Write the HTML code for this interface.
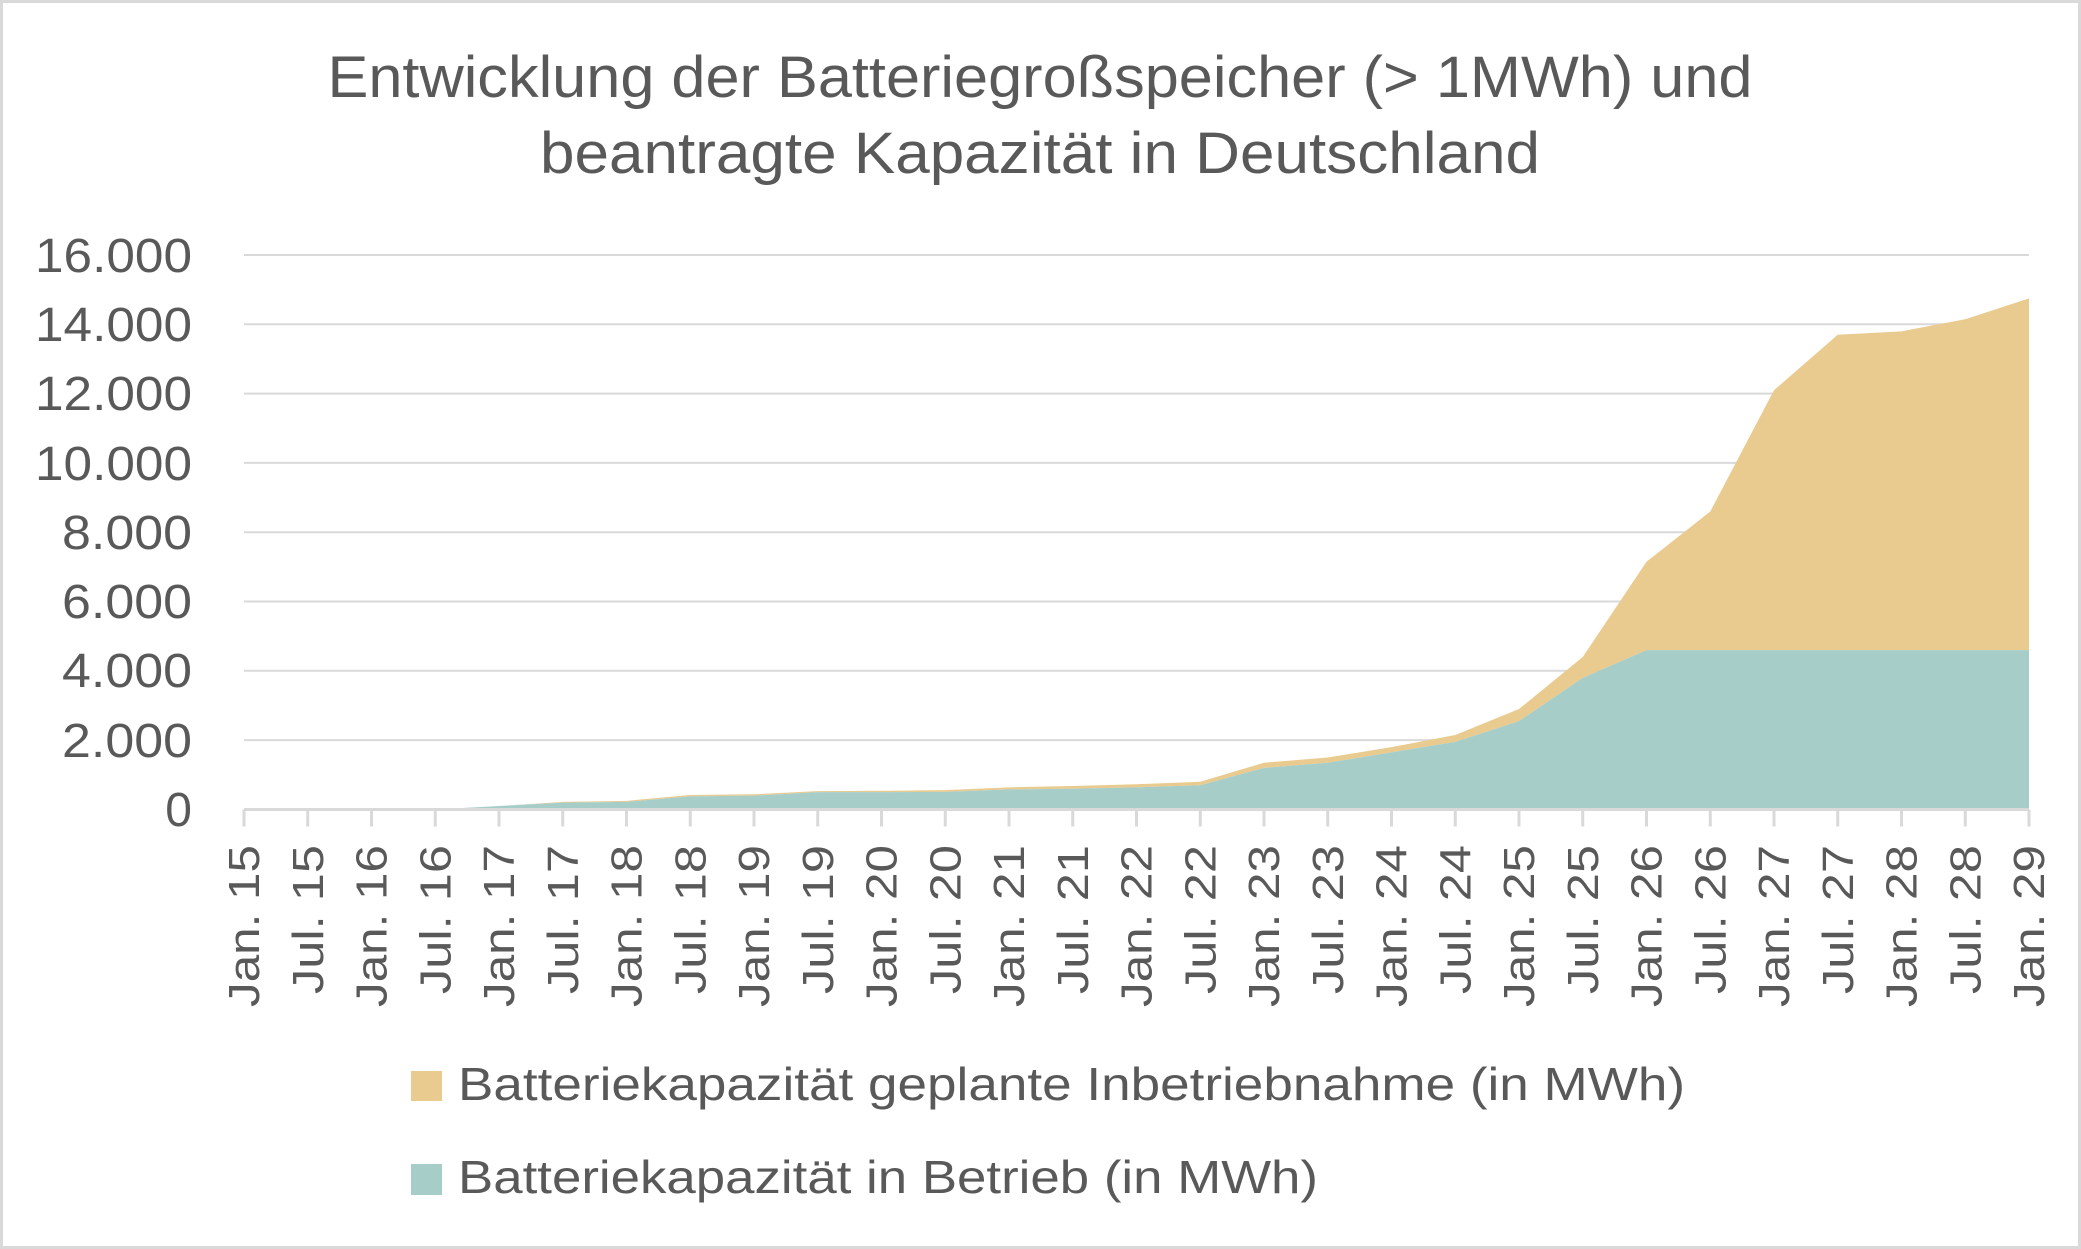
<!DOCTYPE html>
<html><head><meta charset="utf-8"><style>
html,body{margin:0;padding:0;background:#fff;}
svg{display:block;}
text{font-family:"Liberation Sans",sans-serif;fill:#595959;}
</style></head><body>
<svg width="2081" height="1249" viewBox="0 0 2081 1249" xmlns="http://www.w3.org/2000/svg">
<rect x="1.5" y="1.5" width="2078" height="1246" fill="#fff" stroke="#d9d9d9" stroke-width="3"/>
<text x="1040" y="97" font-size="58" text-anchor="middle" textLength="1425" lengthAdjust="spacingAndGlyphs">Entwicklung der Batteriegroßspeicher (&gt; 1MWh) und</text>
<text x="1040" y="173" font-size="58" text-anchor="middle" textLength="1000" lengthAdjust="spacingAndGlyphs">beantragte Kapazität in Deutschland</text>
<g stroke="#d9d9d9" stroke-width="2">
<line x1="244" x2="2029" y1="255" y2="255"/>
<line x1="244" x2="2029" y1="324.3" y2="324.3"/>
<line x1="244" x2="2029" y1="393.6" y2="393.6"/>
<line x1="244" x2="2029" y1="462.9" y2="462.9"/>
<line x1="244" x2="2029" y1="532.2" y2="532.2"/>
<line x1="244" x2="2029" y1="601.5" y2="601.5"/>
<line x1="244" x2="2029" y1="670.8" y2="670.8"/>
<line x1="244" x2="2029" y1="740.1" y2="740.1"/>
</g>
<g font-size="48" text-anchor="end">
<text x="192" y="272" textLength="157" lengthAdjust="spacingAndGlyphs">16.000</text>
<text x="192" y="341" textLength="157" lengthAdjust="spacingAndGlyphs">14.000</text>
<text x="192" y="410" textLength="157" lengthAdjust="spacingAndGlyphs">12.000</text>
<text x="192" y="480" textLength="157" lengthAdjust="spacingAndGlyphs">10.000</text>
<text x="192" y="549" textLength="130" lengthAdjust="spacingAndGlyphs">8.000</text>
<text x="192" y="618" textLength="130" lengthAdjust="spacingAndGlyphs">6.000</text>
<text x="192" y="687" textLength="130" lengthAdjust="spacingAndGlyphs">4.000</text>
<text x="192" y="757" textLength="130" lengthAdjust="spacingAndGlyphs">2.000</text>
<text x="192" y="826">0</text>
</g>
<g id="areas"></g>
<g id="ticks" stroke="#d9d9d9" stroke-width="3"></g>
<g id="xl" font-size="44" text-anchor="end"></g>
<rect x="411" y="1071" width="31" height="30" fill="#e9ca8f"/>
<text x="458" y="1100" font-size="46" textLength="1227" lengthAdjust="spacingAndGlyphs">Batteriekapazität geplante Inbetriebnahme (in MWh)</text>
<rect x="411" y="1164" width="31" height="31" fill="#a7cdc9"/>
<text x="458" y="1193" font-size="46" textLength="860" lengthAdjust="spacingAndGlyphs">Batteriekapazität in Betrieb (in MWh)</text>
<script>
var x0=244,dx=(2029-244)/28,y0=809.5,k=69.3/2000;
var teal=[0,0,0,0,100,200,220,380,400,500,500,510,580,600,640,700,1200,1350,1650,1950,2550,3800,4600,4600,4600,4600,4600,4600,4600];
var tot=[0,0,0,0,100,220,250,420,440,530,540,560,640,680,730,800,1350,1500,1800,2150,2900,4400,7150,8600,12100,13700,13800,14150,14750];
function X(i){return x0+i*dx;}function Y(v){return y0-v*k;}
var ns="http://www.w3.org/2000/svg";
function poly(a,b,c){var p=[];for(var i=0;i<29;i++)p.push(X(i)+","+Y(a[i]));for(var i=28;i>=0;i--)p.push(X(i)+","+Y(b?b[i]:0));var e=document.createElementNS(ns,"polygon");e.setAttribute("points",p.join(" "));e.setAttribute("fill",c);document.getElementById("areas").appendChild(e);}
poly(tot,teal,"#e9ca8f");poly(teal,null,"#a7cdc9");
var l=document.createElementNS(ns,"line");l.setAttribute("x1",x0);l.setAttribute("x2",2029);l.setAttribute("y1",y0);l.setAttribute("y2",y0);document.getElementById("ticks").appendChild(l);
for(var i=0;i<29;i++){var t=document.createElementNS(ns,"line");t.setAttribute("x1",X(i));t.setAttribute("x2",X(i));t.setAttribute("y1",y0);t.setAttribute("y2",y0+17);document.getElementById("ticks").appendChild(t);
var yr=15+Math.floor(i/2);var s=(i%2?"Jul. ":"Jan. ")+yr;var tx=document.createElementNS(ns,"text");tx.textContent=s;var cx=X(i)+15,cy=845;tx.setAttribute("x",cx);tx.setAttribute("y",cy);tx.setAttribute("textLength",i%2?149:162);tx.setAttribute("lengthAdjust","spacingAndGlyphs");tx.setAttribute("transform","rotate(-90 "+cx+" "+cy+")");document.getElementById("xl").appendChild(tx);}
</script>
</svg>
</body></html>
